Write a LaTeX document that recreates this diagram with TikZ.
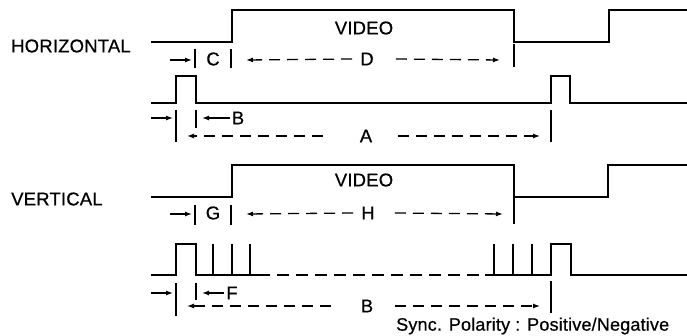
\documentclass[tikz,border=0pt]{standalone}
\usepackage{fontspec}
\setmainfont{Liberation Sans}
\newfontfamily\labelfont[FakeBold=0.6, LetterSpace=1]{Liberation Sans}
\usetikzlibrary{arrows.meta}

\begin{document}
\begin{tikzpicture}[x=1pt, y=-1pt, every node/.style={font=\labelfont\fontsize{18.5}{22}\selectfont, inner sep=2pt},
		signal/.style={line width=1.8pt},
		tick/.style={line width=1.3pt},
		dimline/.style={line width=1.3pt, -{Latex[length=7pt,width=5pt]}},
		dimdash/.style={dimline, dash pattern=on 11pt off 7pt}]
		\useasboundingbox (0,0) rectangle (687,336);
		%Beschriftung
		\node (horiz) [anchor=west] at (9,46) {HORIZONTAL};
		\node (vert) [anchor=west] at (9,199) {VERTICAL};
		%Horizontal: Video
		\draw[signal] (151,42) -- ++(81,0) -- ++(0,-32) -- ++(282,0) -- ++(0,32) -- ++(95,0) -- ++(0,-32) -- (687,10);
		\node (videoH) at (364,28) {VIDEO};
		\draw[tick] (195,49) -- (195,68) (231,49) -- (231,68) (514,44) -- (514,67);
		\node (C) at (213,59) {C};
		\node (D) at (367,59) {D};
		\draw[dimline] (170,60) -- (192,60);
		\draw[dimdash] ([xshift=-6pt]D.west) -- (246,60);
		\draw[dimdash] ([xshift=20pt]D.east) -- (500,60);
		%Horizontal: Sync
		\draw[signal] (151,103) -- ++(25,0) -- ++(0,-27) -- ++(20,0) -- ++(0,27) -- ++(355,0) -- ++(0,-27) -- ++(19,0) -- ++(0,27) -- (687,103);
		\draw[tick] (176,110) -- (176,142) (196,110) -- (196,128) (551,110) -- (551,142);
		\node (B1) at (238,118) {B};
		\node (A) at (366,136) {A};
		\draw[dimline] (151,118) -- (173,118);
		\draw[dimline] (B1.west) -- (202,118);
		\draw[dimdash] ([xshift=-35pt]A.west) -- (187,136);
		\draw[dimdash] ([xshift=24pt]A.east) -- (540,136);
		%Vertical: Video
		\draw[signal] (151,197) -- ++(81,0) -- ++(0,-32) -- ++(282,0) -- ++(0,32) -- ++(94,0) -- ++(0,-32) -- (687,165);
		\node (videoV) at (364,180) {VIDEO};
		\draw[tick] (195,205) -- (195,225) (231,205) -- (231,225) (514,198) -- (514,224);
		\node (G) at (213,213) {G};
		\node (H) at (368,213) {H};
		\draw[dimline] (170,214) -- (192,214);
		\draw[dimdash] ([xshift=-6pt]H.west) -- (246,214);
		\draw[dimdash] ([xshift=18pt]H.east) -- (503,214);
		%Vertical: Sync
		\draw[signal] (151,275) -- ++(25,0) -- ++(0,-31) -- ++(20,0) -- ++(0,31) -- (258,275);
		\draw[signal, dash pattern=on 12pt off 7pt] (258,275) -- (485,275);
		\draw[signal] (485,275) -- (551,275) -- ++(0,-31) -- ++(20,0) -- ++(0,31) -- (687,275);
		\foreach \x in {213,232,250,494,513,532}
			\draw[signal] (\x,275) -- ++(0,-31);
		\draw[tick] (176,283) -- (176,316) (196,283) -- (196,300) (551,281) -- (551,313);
		\node (F) at (232,293) {F};
		\node (B2) at (367,306) {B};
		\draw[dimline] (151,293) -- (173,293);
		\draw[dimline] (F.west) -- (202,293);
		\draw[dimdash] ([xshift=-28pt]B2.west) -- (187,306);
		\draw[dimdash] ([xshift=20pt]B2.east) -- (540,306);
		\node (polarity) [anchor=west, font=\labelfont\fontsize{18}{22}\selectfont] at (394,326) {Sync. Polarity : Positive/Negative};
	\end{tikzpicture}
\end{document}
